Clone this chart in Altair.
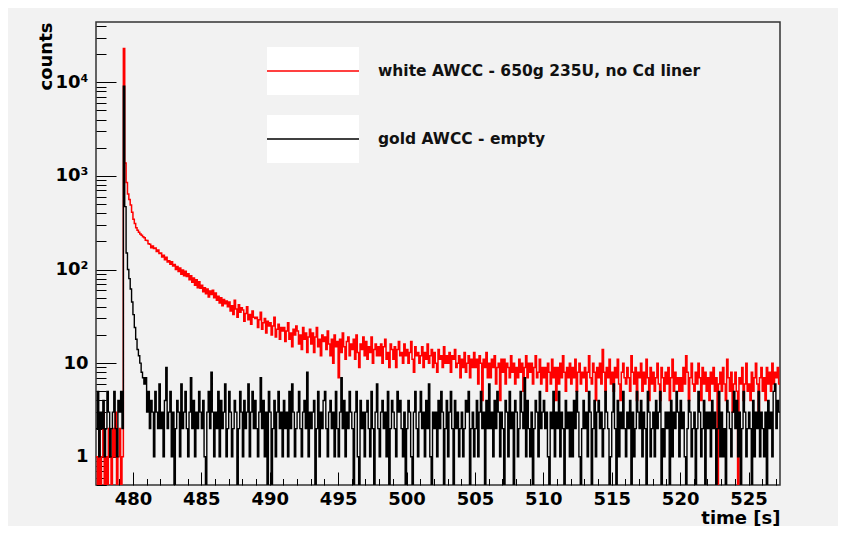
import altair as alt
import pandas as pd

# ---------------- data ----------------
T0 = 477.3          # left edge of first bin [s]
BIN = 0.1           # bin width [s]

series_names = ["white AWCC - 650g 235U, no Cd liner", "gold AWCC - empty"]
series_colors = ["#ff0000", "#000000"]

red_counts = [
    # 477.3 - 479.2
    1, 0, 2, 0, 1, 3, 0, 1, 0, 2, 1, 0, 2, 1, 3, 0, 1, 2, 0, 1,
    # 479.3 - 479.9
    23000, 1370, 850, 640, 560, 490, 410,
    # 480
    345, 310, 280, 262, 250, 240, 232, 224, 218, 206,
    # 481
    204, 188, 186, 171, 178, 168, 170, 156, 162, 148,
    # 482
    150, 136, 142, 127, 135, 120, 124, 114, 121, 109,
    # 483
    113, 100, 108, 95, 104, 89, 99, 86, 96, 84,
    # 484
    90, 78, 86, 73, 81, 68, 78, 64, 74, 63,
    # 485
    68, 58, 64, 55, 62, 51, 59, 54, 60, 50,
    # 486
    56, 47, 52, 44, 50, 41, 48, 43, 46, 40,
    # 487
    45, 36, 41, 33, 47, 38, 31, 42, 35, 39,
    # 488
    37, 28, 34, 40, 29, 33, 26, 36, 31, 30,
    # 489
    31, 24, 29, 35, 23, 27, 30, 21, 28, 25,
    # 490
    27, 20, 25, 31, 19, 23, 26, 18, 24, 22,
    # 491
    24, 17, 22, 27, 18, 21, 15, 23, 20, 25,
    # 492
    22, 16, 20, 14, 24, 18, 21, 13, 19, 23,
    # 493
    16, 21, 13, 19, 24, 15, 18, 12, 20, 17,
    # 494
    19, 14, 22, 16, 12, 18, 10, 20, 15, 17,
    # 495
    7, 18, 13, 21, 15, 11, 17, 19, 12, 16,
    # 496
    14, 18, 11, 20, 13, 9, 16, 14, 19, 12,
    # 497
    17, 11, 15, 13, 19, 10, 14, 16, 12, 15,
    # 498
    12, 16, 10, 15, 18, 11, 13, 9, 16, 14,
    # 499
    11, 15, 9, 14, 17, 12, 13, 10, 16, 12,
    # 500
    14, 10, 13, 17, 11, 8, 15, 12, 13, 10,
    # 501
    12, 15, 9, 13, 11, 16, 10, 12, 14, 9,
    # 502
    13, 10, 8, 14, 11, 12, 9, 15, 10, 12,
    # 503
    10, 13, 8, 12, 11, 14, 9, 10, 12, 7,
    # 504
    11, 9, 13, 8, 10, 12, 7, 11, 9, 13,
    # 505
    9, 11, 6, 12, 10, 4, 11, 9, 13, 7,
    # 506
    10, 7, 11, 9, 12, 6, 9, 10, 4, 11,
    # 507
    8, 11, 6, 10, 9, 7, 12, 8, 10, 6,
    # 508
    9, 7, 11, 8, 10, 5, 9, 12, 7, 10,
    # 509
    8, 10, 6, 9, 12, 7, 8, 11, 6, 9,
    # 510
    7, 9, 5, 10, 8, 6, 11, 7, 9, 4,
    # 511
    9, 6, 10, 7, 12, 8, 5, 9, 7, 10,
    # 512
    6, 9, 7, 11, 5, 8, 10, 6, 8, 7,
    # 513
    9, 5, 8, 12, 7, 6, 10, 8, 4, 9,
    # 514
    7, 10, 6, 14, 8, 5, 9, 7, 11, 6,
    # 515
    8, 5, 9, 7, 11, 6, 4, 8, 10, 7,
    # 516
    6, 9, 7, 5, 12, 8, 6, 9, 4, 8,
    # 517
    7, 10, 5, 8, 6, 11, 7, 4, 9, 6,
    # 518
    8, 5, 7, 10, 6, 4, 9, 7, 5, 8,
    # 519
    6, 9, 4, 7, 11, 5, 8, 6, 7, 5,
    # 520
    7, 5, 9, 6, 12, 8, 4, 7, 10, 6,
    # 521
    5, 8, 6, 10, 7, 4, 9, 6, 8, 5,
    # 522
    7, 4, 8, 6, 9, 5, 7, 0, 6, 8,
    # 523
    5, 9, 6, 4, 11, 7, 5, 8, 3, 6,
    # 524
    8, 5, 0, 7, 6, 9, 4, 6, 10, 5,
    # 525
    6, 4, 8, 5, 7, 10, 6, 3, 7, 9,
    # 526
    5, 7, 4, 9, 6, 8, 5, 10, 6, 8,
    # 527.0 - 527.2
    7, 9, 6,
]

black_counts = [
    # 477.3 - 479.2
    2, 5, 1, 3, 2, 4, 1, 2, 5, 3, 1, 2, 3, 5, 2, 1, 4, 3, 5, 2,
    # 479.3 - 479.9
    9100, 470, 150, 100, 80, 62, 45,
    # 480
    33, 24, 18, 14, 12, 10, 8, 7, 6, 7,
    # 481
    3, 5, 2, 4, 3, 1, 5, 3, 2, 6,
    # 482
    2, 3, 1, 4, 9, 2, 3, 5, 1, 3,
    # 483
    0, 2, 4, 3, 1, 6, 2, 3, 5, 2,
    # 484
    1, 3, 7, 2, 4, 1, 3, 2, 5, 3,
    # 485
    2, 4, 1, 0, 3, 5, 2, 8, 3, 1,
    # 486
    3, 2, 5, 1, 4, 2, 3, 6, 1, 2,
    # 487
    5, 3, 1, 2, 4, 3, 0, 2, 5, 3,
    # 488
    1, 4, 2, 3, 6, 1, 3, 5, 2, 4,
    # 489
    2, 1, 3, 7, 2, 4, 1, 3, 0, 5,
    # 490
    3, 0, 2, 4, 1, 3, 5, 2, 3, 1,
    # 491
    4, 2, 3, 1, 5, 2, 6, 3, 1, 2,
    # 492
    3, 5, 2, 1, 3, 4, 2, 8, 1, 3,
    # 493
    2, 3, 4, 0, 2, 5, 1, 3, 2, 4,
    # 494
    5, 2, 1, 3, 4, 2, 3, 1, 5, 2,
    # 495
    1, 3, 7, 2, 4, 1, 3, 2, 5, 3,
    # 496
    2, 0, 3, 5, 1, 0, 4, 2, 3, 1,
    # 497
    3, 4, 2, 1, 5, 2, 0, 3, 6, 2,
    # 498
    1, 3, 4, 2, 3, 1, 5, 0, 2, 4,
    # 499
    3, 2, 1, 5, 3, 4, 2, 1, 3, 0,
    # 500
    2, 4, 3, 1, 0, 3, 5, 2, 1, 3,
    # 501
    5, 2, 3, 1, 4, 2, 6, 1, 0, 3,
    # 502
    2, 3, 1, 4, 2, 5, 3, 0, 2, 4,
    # 503
    1, 3, 5, 2, 0, 4, 2, 3, 1, 2,
    # 504
    3, 1, 2, 4, 3, 5, 0, 2, 3, 1,
    # 505
    2, 4, 1, 3, 5, 2, 3, 0, 4, 2,
    # 506
    6, 2, 3, 1, 4, 2, 5, 3, 1, 3,
    # 507
    2, 0, 4, 3, 1, 5, 2, 3, 0, 4,
    # 508
    3, 1, 2, 5, 3, 2, 7, 1, 4, 2,
    # 509
    1, 3, 0, 2, 4, 3, 1, 5, 2, 3,
    # 510
    4, 2, 3, 1, 0, 3, 2, 5, 1, 3,
    # 511
    2, 5, 1, 3, 2, 0, 4, 2, 3, 1,
    # 512
    3, 1, 4, 2, 5, 3, 1, 0, 2, 4,
    # 513
    2, 3, 1, 5, 3, 0, 2, 4, 1, 3,
    # 514
    4, 2, 3, 1, 2, 5, 3, 2, 0, 1,
    # 515
    3, 6, 2, 0, 4, 1, 3, 2, 5, 2,
    # 516
    1, 3, 2, 4, 0, 3, 1, 2, 5, 3,
    # 517
    2, 4, 1, 3, 2, 0, 5, 3, 1, 2,
    # 518
    3, 1, 4, 2, 3, 5, 0, 2, 1, 3,
    # 519
    2, 3, 0, 4, 1, 3, 2, 5, 3, 1,
    # 520
    4, 2, 3, 1, 0, 2, 4, 3, 1, 2,
    # 521
    3, 0, 2, 5, 3, 1, 2, 4, 0, 3,
    # 522
    2, 3, 1, 4, 2, 3, 0, 2, 5, 1,
    # 523
    3, 1, 2, 0, 4, 3, 2, 1, 3, 5,
    # 524
    2, 4, 1, 3, 0, 2, 5, 3, 1, 2,
    # 525
    3, 2, 0, 4, 1, 3, 2, 5, 1, 3,
    # 526
    2, 1, 3, 0, 4, 2, 3, 1, 5, 6,
    # 527.0 - 527.2
    2, 4, 3,
]

x_domain = [477.3, 527.3]
y_domain = [0.5, 44000]
x_label_values = [480, 485, 490, 495, 500, 505, 510, 515, 520, 525]
x_tick_values = list(range(478, 528))
y_label_values = [1, 10, 100, 1000, 10000]
y_label_texts = ["1", "10", "10\u00b2", "10\u00b3", "10\u2074"]
y_tick_values = [m / 10 for m in range(5, 10)] + [m * 10 ** e for e in range(0, 5) for m in range(1, 10) if m * 10 ** e <= 44000]

FONT = "DejaVu Sans"
W, H = 684, 463


def hist_frame(counts, name):
    rows = [{"t": round(T0 + BIN * i, 3), "count": c, "series": name} for i, c in enumerate(counts)]
    rows.append({"t": round(T0 + BIN * len(counts), 3), "count": counts[-1], "series": name})
    return pd.DataFrame(rows)


red_df = hist_frame(red_counts, series_names[0])
black_df = hist_frame(black_counts, series_names[1])

xscale = alt.Scale(domain=x_domain, nice=False, zero=False)
yscale = alt.Scale(type="log", domain=y_domain, nice=False)

label_expr = " : ".join(
    f"datum.value == {v} ? '{t}'" for v, t in zip(y_label_values[::-1], y_label_texts[::-1])
) + " : ''"

y_label_axis = alt.Axis(
    orient="left", values=y_label_values, labelExpr=label_expr,
    ticks=False, tickSize=0, domain=False, grid=False, labelOverlap=False,
    labelFont=FONT, labelFontSize=18, labelFontWeight="bold", labelColor="#000",
    labelPadding=8,
    title="counts", titleFont=FONT, titleFontSize=18, titleFontWeight="bold", titleColor="#000",
    titleAngle=270, titleAlign="right", titleBaseline="alphabetic", titleX=-45, titleY=0,
)
y_tick_axis = alt.Axis(
    orient="right", offset=-W, values=y_tick_values, labels=False, domain=False, grid=False,
    ticks=True, tickColor="#000", tickWidth=1,
    tickSize={"condition": {"test": "indexof([1, 10, 100, 1000, 10000], datum.value) >= 0", "value": 20}, "value": 10},
    title=None,
)
x_label_axis = alt.Axis(
    orient="bottom", values=x_label_values, format="d",
    ticks=False, tickSize=0, domain=False, grid=False, labelOverlap=False, labelFlush=False,
    labelFont=FONT, labelFontSize=18, labelFontWeight="bold", labelColor="#000", labelPadding=5,
    title="time [s]", titleFont=FONT, titleFontSize=18, titleFontWeight="bold", titleColor="#000",
    titleAlign="right", titleBaseline="alphabetic", titleX=W, titleY=38,
)
x_tick_axis = alt.Axis(
    orient="top", offset=-H, values=x_tick_values, labels=False, domain=False, grid=False,
    ticks=True, tickColor="#000", tickWidth=1,
    tickSize={"condition": {"test": "datum.value % 5 === 0", "value": 13}, "value": 6.5},
    title=None,
)

red_layer = alt.Chart(red_df).transform_calculate(
    yv="max(datum.count, 0.2)"
).mark_line(interpolate="step-after", color=series_colors[0], strokeWidth=1.5, clip=True).encode(
    x=alt.X("t:Q", scale=xscale, axis=x_label_axis),
    y=alt.Y("yv:Q", scale=yscale, axis=y_label_axis),
)
black_layer = alt.Chart(black_df).transform_calculate(
    yv="max(datum.count, 0.2)"
).mark_line(interpolate="step-after", color=series_colors[1], strokeWidth=1.4, clip=True).encode(
    x=alt.X("t:Q", scale=xscale, axis=x_tick_axis),
    y=alt.Y("yv:Q", scale=yscale, axis=y_tick_axis),
)

# hand-drawn ROOT-style legend
legend_layers = []
for k, (name, col) in enumerate(zip(series_names, series_colors)):
    d = pd.DataFrame({"label": [name]})
    dy = 68 * k
    legend_layers.append(
        alt.Chart(d).mark_rect(color="#ffffff").encode(
            x=alt.value(171), x2=alt.value(263), y=alt.value(25 + dy), y2=alt.value(73 + dy))
    )
    legend_layers.append(
        alt.Chart(d).mark_rule(color=col, strokeWidth=1.5).encode(
            x=alt.value(171), x2=alt.value(263), y=alt.value(49 + dy))
    )
    legend_layers.append(
        alt.Chart(d).mark_text(align="left", baseline="alphabetic", font=FONT, fontSize=15.5,
                               fontWeight="bold", color="#111111").encode(
            x=alt.value(282), y=alt.value(54 + dy), text="label:N")
    )

chart = alt.layer(red_layer, black_layer, *legend_layers).properties(
    width=W, height=H,
    padding={"left": 88, "top": 14, "right": 58, "bottom": 41},
    autosize=alt.AutoSizeParams(type="none"),
).configure(
    background="#f2f2f2",
).configure_view(
    stroke="#333333", strokeWidth=1.5,
)

chart.save("out.html", embed_options={"renderer": "svg", "actions": False})
